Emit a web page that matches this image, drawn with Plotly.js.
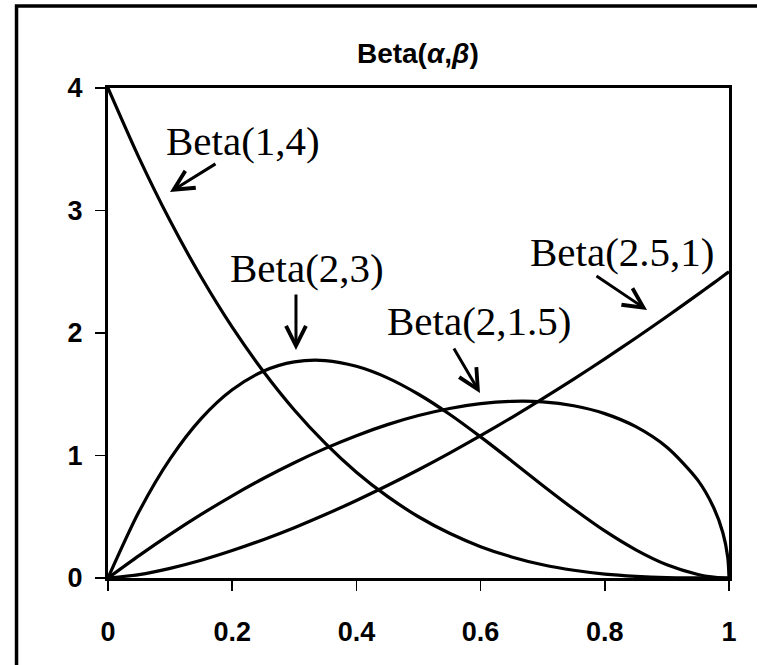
<!DOCTYPE html>
<html>
<head>
<meta charset="utf-8">
<script src="https://cdn.plot.ly/plotly-3.0.1.min.js"></script>
<style>html,body{margin:0;padding:0;background:#fff;}#chart{width:757px;height:665px;}</style>
</head>
<body>
<div id="chart"></div>
<script>
// x positions where the curves were read
const xVals = [0, 0.05, 0.1, 0.15, 0.2, 0.25, 0.3, 0.35, 0.4, 0.45, 0.5, 0.55, 0.6, 0.65, 0.7, 0.75, 0.8, 0.85, 0.9, 0.95, 0.975, 0.99, 0.998, 1];
// Beta(1,4)
const beta14 = [4, 3.43, 2.916, 2.457, 2.048, 1.688, 1.372, 1.099, 0.864, 0.666, 0.5, 0.365, 0.256, 0.172, 0.108, 0.063, 0.032, 0.014, 0.004, 0.001, 0, 0, 0, 0];
// Beta(2,3)
const beta23 = [0, 0.542, 0.972, 1.301, 1.536, 1.688, 1.764, 1.775, 1.728, 1.634, 1.5, 1.337, 1.152, 0.956, 0.756, 0.563, 0.384, 0.23, 0.108, 0.029, 0.007, 0.001, 0, 0];
// Beta(2,1.5)
const beta215 = [0, 0.183, 0.356, 0.519, 0.671, 0.812, 0.941, 1.058, 1.162, 1.252, 1.326, 1.384, 1.423, 1.442, 1.438, 1.406, 1.342, 1.235, 1.067, 0.797, 0.578, 0.371, 0.167, 0];
// Beta(2.5,1)
const beta251 = [0, 0.028, 0.079, 0.145, 0.224, 0.313, 0.411, 0.518, 0.633, 0.755, 0.884, 1.02, 1.162, 1.31, 1.464, 1.624, 1.789, 1.959, 2.135, 2.315, 2.407, 2.463, 2.493, 2.5];

const seriesNames = ["Beta(1,4)", "Beta(2,3)", "Beta(2,1.5)", "Beta(2.5,1)"];
const seriesData = [beta14, beta23, beta215, beta251];

const xTickVals = [0, 0.2, 0.4, 0.6, 0.8, 1];
const xTickText = ["0", "0.2", "0.4", "0.6", "0.8", "1"];
const yTickVals = [0, 1, 2, 3, 4];
const yTickText = ["0", "1", "2", "3", "4"];

// label positions (data coords) and arrow tail/tip
const labelX = [0.2166, 0.3205, 0.5974, 0.8277];
const labelY = [3.567, 2.531, 2.098, 2.661];
const arrowTailX = [0.1755, 0.3027, 0.5556, 0.7842];
const arrowTailY = [3.388, 2.327, 1.886, 2.473];
const arrowTipX = [0.0998, 0.3027, 0.599, 0.868];
const arrowTipY = [3.151, 1.861, 1.51, 2.188];

const traces = seriesData.map((ys, i) => ({
  x: xVals, y: ys, type: 'scatter', mode: 'lines', name: seriesNames[i],
  line: {color: '#000', width: 3.2, shape: 'spline', smoothing: 0.8},
  hoverinfo: 'skip'
}));

const annotations = [];
for (let i = 0; i < seriesNames.length; i++) {
  annotations.push({
    x: labelX[i], y: labelY[i], xref: 'x', yref: 'y', text: seriesNames[i],
    showarrow: false, xanchor: 'center', yanchor: 'middle',
    font: {family: '"Liberation Serif", "Times New Roman", serif', size: 41, color: '#000'}
  });
  annotations.push({
    x: arrowTipX[i], y: arrowTipY[i], ax: arrowTailX[i], ay: arrowTailY[i],
    xref: 'x', yref: 'y', axref: 'x', ayref: 'y', text: '',
    showarrow: true, arrowhead: 5, arrowsize: 1.3, arrowwidth: 3, arrowcolor: '#000', standoff: 0
  });
}

const sans = 'Arial, "Liberation Sans", sans-serif';
const axisFont = {family: sans, size: 27, color: '#000', weight: 'bold'};

const layout = {
  width: 757, height: 665,
  margin: {l: 108, r: 28, t: 88, b: 87},
  paper_bgcolor: '#fff', plot_bgcolor: '#fff',
  showlegend: false,
  title: {
    text: 'Beta(<i>α</i>,<i>β</i>)',
    font: {family: sans, size: 28, color: '#000', weight: 'bold'},
    x: 0.552, xanchor: 'center', y: 0.92, yanchor: 'middle', xref: 'container', yref: 'container'
  },
  xaxis: {
    range: [0, 1], tickvals: xTickVals, ticktext: xTickText,
    showgrid: false, zeroline: false, showline: true, linecolor: '#000', linewidth: 3, mirror: true,
    ticks: 'outside', ticklen: 10, tickwidth: 1.5, tickcolor: '#000',
    tickfont: axisFont, ticklabelstandoff: 18
  },
  yaxis: {
    range: [0, 4], tickvals: yTickVals, ticktext: yTickText,
    showgrid: false, zeroline: false, showline: true, linecolor: '#000', linewidth: 3, mirror: true,
    ticks: 'outside', ticklen: 10, tickwidth: 1.5, tickcolor: '#000',
    tickfont: axisFont, ticklabelstandoff: 7
  },
  annotations: annotations,
  shapes: [{
    type: 'rect', xref: 'paper', yref: 'paper',
    x0: -0.1473, x1: 1.2, y0: -0.3, y1: 1.1673,
    line: {color: '#000', width: 3.5}, fillcolor: 'rgba(0,0,0,0)', layer: 'above'
  }]
};

Plotly.newPlot('chart', traces, layout, {displayModeBar: false, staticPlot: true});
</script>
</body>
</html>
